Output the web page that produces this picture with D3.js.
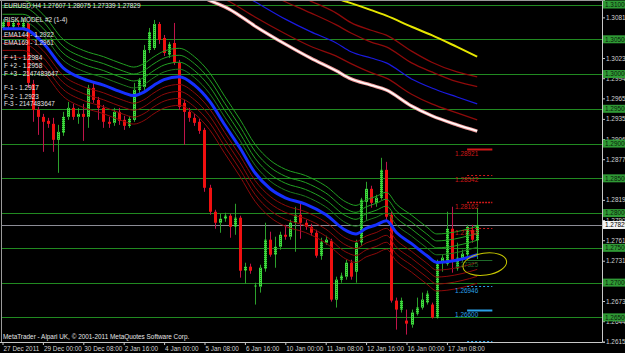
<!DOCTYPE html>
<html>
<head>
<meta charset="utf-8">
<script src="https://cdn.jsdelivr.net/npm/d3@7"></script>
<style>
body { margin: 0; background: #000; }
svg { display: block; }
text { font-family: "Liberation Sans", Arial, sans-serif; font-size: 6.4px; }
</style>
</head>
<body>
<script>
// EURUSD H4 screenshot, metatrader look

var width = 625;
var height = 353;
var plotRight = 602;   // where the price scale starts
var plotBottom = 342;  // where the time scale starts

// candles, one per 4 hours, 27 Dec 16:00 .. 17 Jan
var opens = [1.30663,1.30749,1.30677,1.30735,1.30663,1.30735,1.29858,1.29485,1.29384,1.29327,
  1.29284,1.29054,1.29154,1.29384,1.29513,1.29384,1.29427,1.29384,1.29801,1.29628,
  1.29513,1.29313,1.29298,1.29456,1.29341,1.29255,1.29341,1.29772,1.29815,1.30347,
  1.30375,1.30720,1.30519,1.30275,1.30447,1.30160,1.29585,1.29456,1.29370,1.29313,
  1.29197,1.28364,1.28019,1.27861,1.27918,1.27962,1.27803,1.27933,1.27171,1.27229,
  1.26942,1.26942,1.27200,1.27617,1.27401,1.27516,1.27688,1.27660,1.27861,1.27976,
  1.27861,1.27803,1.27717,1.27387,1.27574,1.27602,1.26755,1.27042,1.27085,1.27286,
  1.27157,1.27574,1.28163,1.28349,1.28148,1.28220,1.28622,1.27976,1.26741,1.26612,
  1.26454,1.26395,1.26554,1.26641,1.26712,1.26684,1.26497,1.27286,1.27272,1.27775,
  1.27200,1.27329,1.27401,1.27760,1.27607];
var highs = [1.30792,1.30778,1.30763,1.30778,1.30806,1.30749,1.29916,1.29528,1.29427,1.29370,
  1.29370,1.29269,1.29456,1.29600,1.29571,1.29513,1.29571,1.29844,1.29873,1.29671,
  1.29556,1.29384,1.29513,1.29513,1.29398,1.29398,1.29873,1.29944,1.30418,1.30663,
  1.30778,1.30749,1.30562,1.30462,1.30735,1.30203,1.29628,1.29513,1.29427,1.29356,
  1.29226,1.28407,1.28048,1.27990,1.28005,1.27990,1.28134,1.27962,1.27286,1.27272,
  1.26999,1.27257,1.27861,1.27732,1.27660,1.27732,1.27832,1.27904,1.28091,1.28148,
  1.27904,1.27847,1.27760,1.27645,1.27674,1.27631,1.27085,1.27143,1.27329,1.27329,
  1.27617,1.28220,1.28450,1.28393,1.28263,1.28795,1.28737,1.28019,1.26784,1.26784,
  1.26612,1.26612,1.26784,1.26856,1.26884,1.26712,1.27329,1.27401,1.28019,1.28091,
  1.27574,1.27473,1.27832,1.27832,1.28075];
var lows = [1.30634,1.30663,1.30648,1.30677,1.30648,1.29801,1.29313,1.29125,1.28881,1.29226,
  1.28881,1.28579,1.29111,1.29341,1.29341,1.29284,1.29039,1.29226,1.29585,1.29341,
  1.29226,1.29226,1.29255,1.29269,1.29197,1.29226,1.29313,1.29700,1.29772,1.30303,
  1.30347,1.30433,1.30260,1.30232,1.30132,1.29485,1.28982,1.29313,1.29255,1.29140,
  1.28306,1.27976,1.27775,1.27717,1.27875,1.27645,1.27688,1.27071,1.26985,1.27128,
  1.26684,1.26856,1.27157,1.27372,1.27214,1.27473,1.27617,1.27617,1.27444,1.27631,
  1.27760,1.27674,1.27358,1.27329,1.27545,1.26727,1.26641,1.26999,1.27042,1.27042,
  1.26999,1.27530,1.27904,1.28077,1.28091,1.28192,1.27904,1.26712,1.26324,1.26569,
  1.26252,1.26352,1.26526,1.26612,1.26684,1.26483,1.26483,1.27157,1.27243,1.27143,
  1.27171,1.27301,1.27358,1.27574,1.27339];
var closes = [1.30749,1.30691,1.30735,1.30706,1.30735,1.29873,1.29485,1.29384,1.29313,1.29284,
  1.29054,1.29168,1.29384,1.29513,1.29384,1.29427,1.29384,1.29801,1.29628,1.29513,
  1.29313,1.29284,1.29456,1.29327,1.29255,1.29356,1.29772,1.29916,1.30347,1.30605,
  1.30720,1.30490,1.30303,1.30433,1.30160,1.29528,1.29456,1.29370,1.29298,1.29183,
  1.28364,1.28019,1.27861,1.27918,1.27962,1.27803,1.27933,1.27171,1.27229,1.27171,
  1.26956,1.27214,1.27617,1.27401,1.27516,1.27688,1.27660,1.27861,1.27976,1.27861,
  1.27803,1.27717,1.27387,1.27588,1.27617,1.26755,1.27042,1.27099,1.27286,1.27085,
  1.27574,1.28192,1.28349,1.28148,1.28220,1.28622,1.27947,1.26741,1.26612,1.26741,
  1.26410,1.26569,1.26641,1.26755,1.26841,1.26497,1.27286,1.27358,1.27775,1.27329,
  1.27358,1.27415,1.27803,1.27617,1.27829];

// fast ema + envelope lines, read at these bars
var maBars = [0,4,8,12,16,20,24,26,28,30,32,35,38,41,44,47,50,53,56,60,64,68,70,72,74,76,78,81,84,86,88,91,94];
var emaFast = [1.3065,1.3065,1.3045,1.3009,1.2993,1.2984,1.2973,1.2969,1.2974,1.2984,1.2992,1.2996,1.2984,1.2961,1.2927,1.2894,1.2858,1.2835,1.2822,1.2813,1.2798,1.2775,1.2770,1.2778,1.2783,1.2789,1.2772,1.2756,1.2739,1.2729,1.2730,1.2734,1.2740];
var envUp1 = [1.3076,1.3076,1.3056,1.3020,1.3004,1.2995,1.2984,1.2980,1.2985,1.2995,1.3003,1.3007,1.2995,1.2972,1.2938,1.2905,1.2869,1.2846,1.2833,1.2824,1.2809,1.2786,1.2781,1.2789,1.2794,1.2800,1.2783,1.2767,1.2750,1.2740,1.2741,1.2745,1.2751];
var envUp2 = [1.3086,1.3086,1.3066,1.3030,1.3014,1.3005,1.2994,1.2990,1.2995,1.3005,1.3013,1.3017,1.3005,1.2982,1.2948,1.2915,1.2879,1.2856,1.2843,1.2834,1.2819,1.2796,1.2791,1.2799,1.2804,1.2810,1.2793,1.2777,1.2760,1.2750,1.2751,1.2755,1.2761];
var envUp3 = [1.3096,1.3096,1.3076,1.3040,1.3024,1.3015,1.3004,1.3000,1.3005,1.3015,1.3023,1.3027,1.3015,1.2992,1.2958,1.2925,1.2889,1.2866,1.2853,1.2844,1.2829,1.2806,1.2801,1.2809,1.2814,1.2820,1.2803,1.2787,1.2770,1.2760,1.2761,1.2765,1.2771];
var envUp4 = [1.3106,1.3106,1.3086,1.3050,1.3034,1.3025,1.3014,1.3010,1.3015,1.3025,1.3033,1.3037,1.3025,1.3002,1.2968,1.2935,1.2899,1.2876,1.2863,1.2854,1.2839,1.2816,1.2811,1.2819,1.2824,1.2830,1.2813,1.2797,1.2780,1.2770,1.2771,1.2775,1.2781];
var envDn1 = [1.3054,1.3054,1.3034,1.2998,1.2982,1.2973,1.2962,1.2958,1.2963,1.2973,1.2981,1.2985,1.2973,1.2950,1.2916,1.2883,1.2847,1.2824,1.2811,1.2802,1.2787,1.2764,1.2759,1.2767,1.2772,1.2778,1.2761,1.2745,1.2728,1.2718,1.2719,1.2723,1.2729];
var envDn2 = [1.3044,1.3044,1.3024,1.2988,1.2972,1.2963,1.2952,1.2948,1.2953,1.2963,1.2971,1.2975,1.2963,1.2940,1.2906,1.2873,1.2837,1.2814,1.2801,1.2792,1.2777,1.2754,1.2749,1.2757,1.2762,1.2768,1.2751,1.2735,1.2718,1.2708,1.2709,1.2713,1.2719];
var envDn3 = [1.3034,1.3034,1.3014,1.2978,1.2962,1.2953,1.2942,1.2938,1.2943,1.2953,1.2961,1.2965,1.2953,1.2930,1.2896,1.2863,1.2827,1.2804,1.2791,1.2782,1.2767,1.2744,1.2739,1.2747,1.2752,1.2758,1.2741,1.2725,1.2708,1.2698,1.2699,1.2703,1.2709];
var envDn4 = [1.3024,1.3024,1.3004,1.2968,1.2952,1.2943,1.2932,1.2928,1.2933,1.2943,1.2951,1.2955,1.2943,1.2920,1.2886,1.2853,1.2817,1.2794,1.2781,1.2772,1.2757,1.2734,1.2729,1.2737,1.2742,1.2748,1.2731,1.2715,1.2698,1.2688,1.2689,1.2693,1.2699];

// slow averages coming down from the top right
var whiteBars = [38,41,45,50,56,61,66,69,73,76,81,85,90,94];
var whiteMa = [1.3116,1.3106,1.3093,1.3069,1.3043,1.3023,1.3005,1.2993,1.2984,1.2977,1.2954,1.2940,1.2927,1.2918];
var redCBars = [41,45,50,56,61,66,69,73,76,81,85,90,94];
var redCMa = [1.3118,1.3104,1.3082,1.3058,1.3040,1.3026,1.3015,1.3002,1.2994,1.2971,1.2957,1.2944,1.2934];
var blueBars = [45,50,56,61,66,69,73,76,81,85,90,94];
var blueMa = [1.3124,1.3104,1.3079,1.3061,1.3045,1.3032,1.3023,1.3016,1.2993,1.2980,1.2967,1.2957];
var redBBars = [50,56,61,66,69,73,76,81,85,90,94];
var redBMa = [1.3124,1.3104,1.3088,1.3071,1.3059,1.3046,1.3039,1.3016,1.3003,1.2989,1.2982];
var redABars = [56,61,66,69,73,76,81,85,90,94];
var redAMa = [1.3121,1.3105,1.3088,1.3074,1.3063,1.3056,1.3033,1.3017,1.3003,1.2996];
var yellowBars = [62,66,69,73,76,81,85,90,94];
var yellowMa = [1.3119,1.3109,1.3102,1.3092,1.3084,1.3068,1.3056,1.3039,1.3025];

// target levels drawn right of the last bar
var upTargets = [1.28921, 1.28542, 1.28162, 1.27782];
var midTargets = [1.27325];
var downTargets = [1.26946, 1.26600];
var edgeTargets = [1.26165];   // its label sits under the time scale

var timeBars = [0, 8, 16, 24, 32, 40, 48, 56, 64, 72, 80, 88];
var timeLabels = ["27 Dec 2011", "29 Dec 00:00", "30 Dec 08:00", "2 Jan 16:00", "4 Jan 00:00", "5 Jan 08:00",
  "6 Jan 16:00", "10 Jan 00:00", "11 Jan 08:00", "12 Jan 16:00", "16 Jan 00:00", "17 Jan 08:00"];
var priceTicks = [1.30815, 1.30230, 1.29940, 1.29650, 1.29355, 1.29065, 1.28775, 1.28190, 1.27900,
  1.27610, 1.27315, 1.26735, 1.26445, 1.26150];
var gridLevels = [1.31000, 1.30500, 1.30000, 1.29500, 1.29000, 1.28500, 1.28000, 1.27500, 1.27000, 1.26500];
var lastPrice = 1.27829;

var legendLines = ["RISK MODEL #2 (1-4)", "EMA144 - 1.2922", "EMA169 - 1.2961",
  "F +1 - 1.2984", "F +2 - 1.2958", "F +3 - 2147483647",
  "F-1 - 1.2917", "F-2 - 1.2923", "F-3 - 2147483647"];

var svg = d3.select("body").append("svg")
    .attr("width", width)
    .attr("height", height)
    .style("background", "#000");

var x = d3.scaleLinear().domain([0, 94]).range([2.5, 477.2]);
var y = d3.scaleLinear().domain([1.26150, 1.31065]).range([341.7, 0]);

var defs = svg.append("defs");
defs.append("clipPath").attr("id", "plot")
  .append("rect").attr("x", 2).attr("y", 1).attr("width", plotRight - 2).attr("height", plotBottom - 1);

// dotted green fill of the up candles
var pat = defs.append("pattern").attr("id", "bull")
    .attr("width", 2).attr("height", 2)
    .attr("patternUnits", "userSpaceOnUse");
pat.append("rect").attr("width", 2).attr("height", 2).attr("fill", "#3fd83f");
pat.append("rect").attr("width", 1).attr("height", 1).attr("fill", "#127a12");

var chart = svg.append("g").attr("clip-path", "url(#plot)");

// horizontal lines every 50 pips
chart.selectAll("line.grid")
  .data(gridLevels)
  .enter().append("line")
    .attr("class", "grid")
    .attr("x1", 2).attr("x2", plotRight)
    .attr("y1", function(d) { return Math.round(y(d)) + 0.5; })
    .attr("y2", function(d) { return Math.round(y(d)) + 0.5; })
    .attr("stroke", "#218a21")
    .attr("stroke-width", 1);

// bid line
chart.append("line")
    .attr("x1", 2).attr("x2", plotRight)
    .attr("y1", Math.round(y(lastPrice)) + 0.5)
    .attr("y2", Math.round(y(lastPrice)) + 0.5)
    .attr("stroke", "#8c8c96");

var bars = d3.range(opens.length);

var candle = chart.selectAll("g.candle")
  .data(bars)
  .enter().append("g")
    .attr("class", "candle");

candle.append("line")
    .attr("x1", function(i) { return Math.round(x(i)) + 0.5; })
    .attr("x2", function(i) { return Math.round(x(i)) + 0.5; })
    .attr("y1", function(i) { return y(highs[i]); })
    .attr("y2", function(i) { return y(lows[i]); })
    .attr("stroke", function(i) { return closes[i] >= opens[i] ? "#2ca02c" : "#c0144a"; });

candle.append("rect")
    .attr("x", function(i) { return Math.round(x(i)) - 1; })
    .attr("width", 3)
    .attr("y", function(i) { return y(Math.max(opens[i], closes[i])); })
    .attr("height", function(i) { return Math.max(1, Math.abs(y(opens[i]) - y(closes[i]))); })
    .attr("fill", function(i) { return closes[i] >= opens[i] ? "url(#bull)" : "#f01010"; });

function drawLine(barList, values, color, w) {
  var line = d3.line()
    .x(function(d, i) { return x(barList[i]); })
    .y(function(d) { return y(d); })
    .curve(d3.curveMonotoneX);
  return chart.append("path")
    .datum(values)
    .attr("d", line)
    .attr("fill", "none")
    .attr("stroke", color)
    .attr("stroke-width", w);
}

// envelopes round the fast ema
drawLine(maBars, envDn4, "#8e0a0a", 1);
drawLine(maBars, envDn3, "#8e0a0a", 1);
drawLine(maBars, envDn2, "#8e0a0a", 1);
drawLine(maBars, envDn1, "#8e0a0a", 1);
drawLine(maBars, envUp1, "#1d7a1d", 1);
drawLine(maBars, envUp2, "#22a022", 1);
drawLine(maBars, envUp3, "#22a022", 1);
drawLine(maBars, envUp4, "#22a022", 1);
drawLine(maBars, emaFast, "#1530ff", 3);

// slow lines
drawLine(yellowBars, yellowMa, "#e6e600", 2);
drawLine(redABars, redAMa, "#8e0a0a", 1.3);
drawLine(redBBars, redBMa, "#8e0a0a", 1.3);
drawLine(blueBars, blueMa, "#1a1ae0", 1.2);
drawLine(redCBars, redCMa, "#8e0a0a", 1.3);
drawLine(whiteBars, whiteMa, "#f09a9a", 3.4);
drawLine(whiteBars, whiteMa, "#ffffff", 1.5);

// targets to the right of the last candle
var tx1 = x(92), tx2 = x(97);
function drawTargets(levels, color, dashes, widths, withLabels) {
  chart.selectAll(null)
    .data(levels)
    .enter().append("line")
      .attr("x1", tx1).attr("x2", tx2)
      .attr("y1", function(d) { return Math.round(y(d)) + 0.5; })
      .attr("y2", function(d) { return Math.round(y(d)) + 0.5; })
      .attr("stroke", color)
      .attr("stroke-width", function(d, i) { return widths[i]; })
      .attr("stroke-dasharray", function(d, i) { return dashes[i]; });
  if (!withLabels) return;
  chart.selectAll(null)
    .data(levels)
    .enter().append("text")
      .attr("x", tx1 - 12)
      .attr("y", function(d) { return y(d) + 7; })
      .attr("fill", color)
      .text(function(d) { return d.toFixed(5); });
}
drawTargets(upTargets, "#d01818", ["none", "2,2", "2,1", "2,2"], [2, 1, 1.5, 1], true);
drawTargets(midTargets, "#1f6a2a", ["none"], [1], true);
drawTargets(downTargets, "#2aa0e8", ["2,2", "none"], [1, 2], true);
drawTargets(edgeTargets, "#2aa0e8", ["2,2"], [1], false);

// hand drawn ring round the last bars
chart.append("ellipse")
    .attr("cx", x(95.5))
    .attr("cy", y(1.27265))
    .attr("rx", 22)
    .attr("ry", 11)
    .attr("transform", "rotate(-8," + x(95.5) + "," + y(1.27265) + ")")
    .attr("fill", "none")
    .attr("stroke", "#c8c800")
    .attr("stroke-width", 1);

// frame
svg.append("line").attr("x1", 1.5).attr("x2", 1.5).attr("y1", 0).attr("y2", plotBottom).attr("stroke", "#9a9a9a");
svg.append("line").attr("x1", 0).attr("x2", plotRight).attr("y1", 0.5).attr("y2", 0.5).attr("stroke", "#9a9a9a");

// price scale
var yAxis = svg.append("g")
    .attr("transform", "translate(" + plotRight + ",0)")
    .call(d3.axisRight(y).tickValues(priceTicks).tickSize(3).tickPadding(1)
      .tickFormat(d3.format(".5f")));
yAxis.select(".domain").attr("stroke", "#c8c8c8");
yAxis.selectAll(".tick line").attr("stroke", "#c8c8c8");
yAxis.selectAll(".tick text").attr("fill", "#d2d2d2").style("font-size", "6.4px")
    .style("font-family", "'Liberation Sans', Arial, sans-serif");

// labels of the horizontal lines
var boxes = svg.selectAll("g.box")
  .data(gridLevels)
  .enter().append("g")
    .attr("class", "box")
    .attr("transform", function(d) { return "translate(" + (plotRight + 1) + "," + y(d) + ")"; });
boxes.append("rect").attr("x", 0).attr("y", -4).attr("width", 24).attr("height", 8).attr("fill", "#2f9a35");
boxes.append("text").attr("x", 2).attr("y", 2.4).attr("fill", "#0a1a0a")
    .text(function(d) { return d.toFixed(5); });

var bid = svg.append("g").attr("transform", "translate(" + (plotRight + 1) + "," + y(lastPrice) + ")");
bid.append("rect").attr("x", 0).attr("y", -4).attr("width", 24).attr("height", 8).attr("fill", "#f4f4f4");
bid.append("text").attr("x", 2).attr("y", 2.4).attr("fill", "#000").text(lastPrice.toFixed(5));

// time scale
var xAxis = svg.append("g")
    .attr("transform", "translate(0," + plotBottom + ")")
    .call(d3.axisBottom(x).tickValues(timeBars).tickSize(3).tickPadding(1.5)
      .tickFormat(function(d, i) { return timeLabels[i]; }));
xAxis.select(".domain").attr("d", "M0,0.5H" + plotRight).attr("stroke", "#c8c8c8");
xAxis.selectAll(".tick line").attr("stroke", "#c8c8c8");
xAxis.selectAll(".tick text").attr("fill", "#d2d2d2").attr("text-anchor", "start").attr("dx", "0.5")
    .style("font-size", "6.4px").style("font-family", "'Liberation Sans', Arial, sans-serif");

// texts in the corner
var n = opens.length - 1;
svg.append("text").attr("x", 4).attr("y", 8.3).attr("fill", "#e6e6e6")
    .text("EURUSD,H4  " + opens[n].toFixed(5) + " " + highs[n].toFixed(5) + " " + lows[n].toFixed(5) + " " + closes[n].toFixed(5));

var legendY = [20, 35, 43, 58, 66, 73.5, 88, 96.5, 104];
svg.selectAll("text.legend")
  .data(legendLines)
  .enter().append("text")
    .attr("class", "legend")
    .attr("x", 4)
    .attr("y", function(d, i) { return legendY[i] + 2.3; })
    .attr("fill", "#e6e6e6")
    .text(function(d) { return d; });

svg.append("text").attr("x", 3).attr("y", 338.5).attr("fill", "#e6e6e6")
    .text("MetaTrader - Alpari UK, \u00a9 2001-2011 MetaQuotes Software Corp.");
</script>
</body>
</html>
